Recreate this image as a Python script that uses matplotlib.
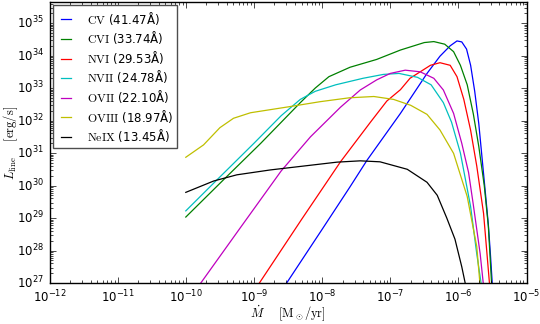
import numpy as np
import matplotlib
matplotlib.use('Agg')
import matplotlib.pyplot as plt

# Datos: log10(Mdot [Msun/yr]) y log10(L_line [erg/s])
cv_logm = [-8.52, -8.0, -7.59, -7.34, -6.85, -6.46, -6.27, -6.12, -6.02, -5.95, -5.88, -5.82, -5.76, -5.70, -5.65, -5.60, -5.56, -5.53, -5.50]
cv_logl = [27.0, 28.65, 29.96, 30.78, 32.22, 33.45, 33.98, 34.3, 34.45, 34.42, 34.2, 33.7, 32.9, 31.9, 30.8, 29.7, 28.8, 27.9, 26.9]

cvi_logm = [-10.0, -9.45, -8.9, -8.32, -8.1, -7.9, -7.59, -7.2, -6.85, -6.5, -6.36, -6.2, -6.07, -5.97, -5.87, -5.78, -5.70, -5.62, -5.56, -5.51]
cvi_logl = [29.03, 30.17, 31.3, 32.55, 33.0, 33.35, 33.64, 33.88, 34.17, 34.4, 34.43, 34.35, 34.12, 33.7, 33.1, 32.2, 31.2, 30.0, 28.75, 26.9]

nvi_logm = [-8.92, -8.3, -7.73, -7.29, -7.05, -6.85, -6.71, -6.56, -6.41, -6.27, -6.12, -6.02, -5.92, -5.82, -5.73, -5.63, -5.58, -5.54]
nvi_logl = [27.0, 28.96, 30.73, 31.95, 32.6, 32.95, 33.3, 33.5, 33.7, 33.78, 33.7, 33.35, 32.65, 31.7, 30.6, 29.14, 27.9, 26.9]

nvii_logm = [-10.0, -9.54, -9.0, -8.6, -8.32, -8.1, -7.8, -7.4, -7.1, -6.87, -6.6, -6.4, -6.22, -6.1, -5.97, -5.82, -5.73, -5.66]
nvii_logl = [29.22, 30.18, 31.3, 32.15, 32.65, 32.9, 33.1, 33.3, 33.42, 33.45, 33.33, 33.1, 32.55, 31.95, 31.0, 29.35, 27.9, 26.9]

ovii_logm = [-9.78, -9.2, -8.6, -8.17, -7.73, -7.44, -7.2, -7.0, -6.78, -6.56, -6.36, -6.22, -6.07, -5.95, -5.85, -5.78, -5.68, -5.63]
ovii_logl = [27.0, 28.7, 30.45, 31.5, 32.41, 32.94, 33.25, 33.45, 33.55, 33.5, 33.3, 32.94, 32.22, 31.3, 30.4, 29.4, 27.9, 26.9]

oviii_logm = [-10.0, -9.74, -9.5, -9.3, -9.05, -8.5, -8.03, -7.6, -7.24, -6.95, -6.7, -6.46, -6.27, -6.07, -5.87, -5.73, -5.68]
oviii_logl = [30.87, 31.25, 31.78, 32.07, 32.24, 32.42, 32.58, 32.7, 32.74, 32.65, 32.47, 32.19, 31.71, 30.99, 29.66, 28.12, 26.9]

neix_logm = [-10.0, -9.59, -9.25, -8.76, -8.27, -7.78, -7.44, -7.15, -6.75, -6.46, -6.31, -6.17, -6.05, -5.95, -5.89]
neix_logl = [29.79, 30.14, 30.33, 30.48, 30.6, 30.72, 30.76, 30.73, 30.5, 30.1, 29.7, 29.0, 28.35, 27.5, 26.9]

etiquetas = [r'$\mathrm{CV}$ (41.47Å)', r'$\mathrm{CVI}$ (33.74Å)', r'$\mathrm{NVI}$ (29.53Å)',
             r'$\mathrm{NVII}$ (24.78Å)', r'$\mathrm{OVII}$ (22.10Å)', r'$\mathrm{OVIII}$ (18.97Å)',
             r'$\mathrm{NeIX}$ (13.45Å)']
colores = ['b', 'g', 'r', 'c', 'm', 'y', 'k']

series = [(cv_logm, cv_logl), (cvi_logm, cvi_logl), (nvi_logm, nvi_logl), (nvii_logm, nvii_logl),
          (ovii_logm, ovii_logl), (oviii_logm, oviii_logl), (neix_logm, neix_logl)]

plt.style.use('classic')
plt.rcParams['axes.unicode_minus'] = False
plt.rcParams['font.size'] = 8.5

fig = plt.figure(figsize=(5.4, 3.24), dpi=100, facecolor='white')
ax = fig.add_axes([0.0917, 0.1265, 0.8833, 0.8675])

for (lm, ll), c, lab in zip(series, colores, etiquetas):
    ax.loglog(10**np.array(lm), 10**np.array(ll), color=c, lw=0.9, label=lab)

ax.set_xlim(1e-12, 1e-5)
ax.set_ylim(1e27, 10**35.65)
ax.tick_params(labelsize=8.5)

ax.set_xlabel(r'$\dot{M}$    $[\mathrm{M}_\odot/\mathrm{yr}]$', fontsize=9, labelpad=-1)
ax.set_ylabel(r'$L_\mathrm{line}$    $[\mathrm{erg/s}]$', fontsize=9, labelpad=-2)

leg = ax.legend(loc='upper left', fontsize=8.5, handlelength=1.5, handletextpad=1.0,
                borderaxespad=0.3, borderpad=0.35, labelspacing=0.22, fancybox=False)
leg.get_frame().set_edgecolor('0.3')

fig.savefig('out.png', dpi=100, facecolor='white')
